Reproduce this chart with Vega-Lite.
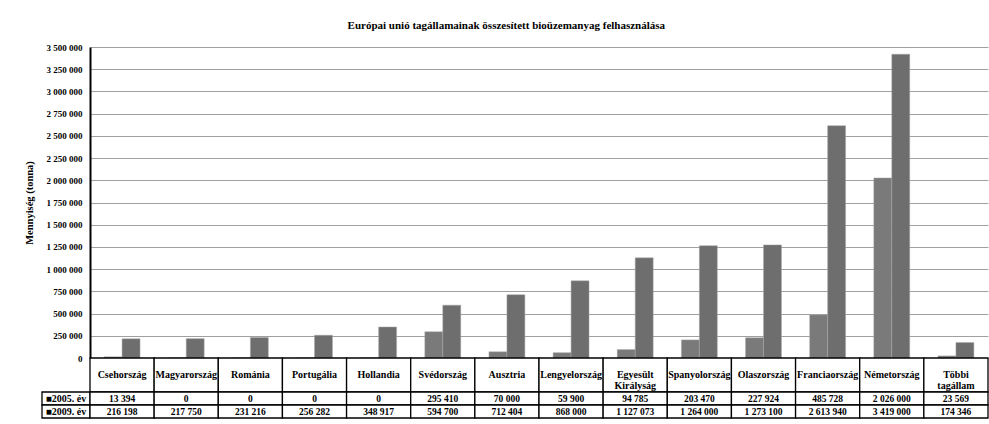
{
  "$schema": "https://vega.github.io/schema/vega-lite/v6.json",
  "padding": {"left": 24, "top": 20, "right": 0, "bottom": 0},
  "background": "white",
  "title": {
    "text": "Európai unió tagállamainak összesített bioüzemanyag felhasználása",
    "font": "Liberation Serif", "fontSize": 11, "fontWeight": "bold", "color": "black",
    "anchor": "middle", "offset": 12
  },
  "datasets": {
    "d": [
      {"country": "Csehország", "year": "2005. év", "value": 13394},
      {"country": "Magyarország", "year": "2005. év", "value": 0},
      {"country": "Románia", "year": "2005. év", "value": 0},
      {"country": "Portugália", "year": "2005. év", "value": 0},
      {"country": "Hollandia", "year": "2005. év", "value": 0},
      {"country": "Svédország", "year": "2005. év", "value": 295410},
      {"country": "Ausztria", "year": "2005. év", "value": 70000},
      {"country": "Lengyelország", "year": "2005. év", "value": 59900},
      {"country": "Egyesült Királyság", "year": "2005. év", "value": 94785},
      {"country": "Spanyolország", "year": "2005. év", "value": 203470},
      {"country": "Olaszország", "year": "2005. év", "value": 227924},
      {"country": "Franciaország", "year": "2005. év", "value": 485728},
      {"country": "Németország", "year": "2005. év", "value": 2026000},
      {"country": "Többi tagállam", "year": "2005. év", "value": 23569},
      {"country": "Csehország", "year": "2009. év", "value": 216198},
      {"country": "Magyarország", "year": "2009. év", "value": 217750},
      {"country": "Románia", "year": "2009. év", "value": 231216},
      {"country": "Portugália", "year": "2009. év", "value": 256282},
      {"country": "Hollandia", "year": "2009. év", "value": 348917},
      {"country": "Svédország", "year": "2009. év", "value": 594700},
      {"country": "Ausztria", "year": "2009. év", "value": 712404},
      {"country": "Lengyelország", "year": "2009. év", "value": 868000},
      {"country": "Egyesült Királyság", "year": "2009. év", "value": 1127073},
      {"country": "Spanyolország", "year": "2009. év", "value": 1264000},
      {"country": "Olaszország", "year": "2009. év", "value": 1273100},
      {"country": "Franciaország", "year": "2009. év", "value": 2613940},
      {"country": "Németország", "year": "2009. év", "value": 3419000},
      {"country": "Többi tagállam", "year": "2009. év", "value": 174346}
    ]
  },
  "columns": 2,
  "spacing": 0,
  "bounds": "flush",
  "concat": [
    {
      "width": 48, "height": 311,
      "data": {"values": [{}]},
      "mark": {"type": "text", "text": ""},
      "encoding": {}
    },
    {
      "width": 898, "height": 311,
      "data": {"name": "d"},
      "mark": {"type": "bar", "stroke": "#a8a8a8", "strokeWidth": 0.5},
      "encoding": {
        "x": {"field": "country", "type": "nominal", "sort": null, "axis": null,
              "scale": {"paddingInner": 0.44, "paddingOuter": 0.22}},
        "xOffset": {"field": "year", "type": "nominal", "scale": {"paddingInner": 0, "paddingOuter": 0}},
        "y": {"field": "value", "type": "quantitative",
              "scale": {"domain": [0, 3500000], "nice": false},
              "axis": {
                "title": "Mennyiség (tonna)",
                "values": [0, 250000, 500000, 750000, 1000000, 1250000, 1500000, 1750000, 2000000, 2250000, 2500000, 2750000, 3000000, 3250000, 3500000],
                "format": ",d",
                "grid": true,
                "ticks": false, "labelPadding": 8, "titlePadding": 12,
                "labelFont": "Liberation Serif", "labelFontSize": 9, "labelFontWeight": "bold", "labelColor": "black",
                "titleFont": "Liberation Serif", "titleFontSize": 10.5, "titleFontWeight": "bold", "titleColor": "black",
                "domainColor": "black", "domainWidth": 2,
                "gridColor": "#a0a0a0", "gridWidth": 1, "gridOpacity": 1
              }},
        "color": {"field": "year", "type": "nominal",
                  "scale": {"domain": ["2005. év", "2009. év"], "range": ["#7a7a7a", "#6e6e6e"]},
                  "legend": null}
      }
    },
    {
      "width": 48, "height": 34,
      "data": {"values": [{}]},
      "mark": {"type": "text", "text": ""},
      "encoding": {}
    },
    {
      "width": 898, "height": 34,
      "data": {"name": "d"},
      "transform": [{"filter": "datum.year === '2005. év'"}],
      "encoding": {
        "x": {"field": "country", "type": "nominal", "sort": null, "axis": null,
              "scale": {"paddingInner": 0, "paddingOuter": 0}}
      },
      "layer": [
        {"mark": {"type": "rect", "fill": "white", "stroke": "black", "strokeWidth": 1.3}},
        {"mark": {"type": "text", "lineBreak": " ", "font": "Liberation Serif", "fontSize": 10, "fontWeight": "bold", "color": "black", "baseline": "middle", "lineHeight": 11},
         "encoding": {"text": {"field": "country"}}}
      ]
    },
    {
      "width": 48, "height": 26,
      "data": {"name": "d"},
      "transform": [
        {"aggregate": [{"op": "count", "as": "n"}], "groupby": ["year"]},
        {"calculate": "'■' + datum.year", "as": "lab"}
      ],
      "encoding": {
        "x": {"datum": "k", "type": "nominal", "axis": null, "scale": {"paddingInner": 0, "paddingOuter": 0}},
        "y": {"field": "year", "type": "nominal", "axis": null, "scale": {"paddingInner": 0, "paddingOuter": 0}}
      },
      "layer": [
        {"mark": {"type": "rect", "fill": "white", "stroke": "black", "strokeWidth": 1.3}},
        {"mark": {"type": "text", "font": "Liberation Serif", "fontSize": 10, "fontWeight": "bold", "color": "black", "baseline": "middle"},
         "encoding": {"text": {"field": "lab"}}}
      ]
    },
    {
      "width": 898, "height": 26,
      "data": {"name": "d"},
      "encoding": {
        "x": {"field": "country", "type": "nominal", "sort": null, "axis": null,
              "scale": {"paddingInner": 0, "paddingOuter": 0}},
        "y": {"field": "year", "type": "nominal", "axis": null, "scale": {"paddingInner": 0, "paddingOuter": 0}}
      },
      "layer": [
        {"mark": {"type": "rect", "fill": "white", "stroke": "black", "strokeWidth": 1.3}},
        {"mark": {"type": "text", "font": "Liberation Serif", "fontSize": 9.5, "fontWeight": "bold", "color": "black", "baseline": "middle"},
         "encoding": {"text": {"field": "value", "type": "quantitative", "format": ",d"}}}
      ]
    }
  ],
  "config": {
    "view": {"stroke": null},
    "locale": {"number": {"decimal": ",", "thousands": " ", "grouping": [3], "currency": ["", " Ft"]}}
  }
}
